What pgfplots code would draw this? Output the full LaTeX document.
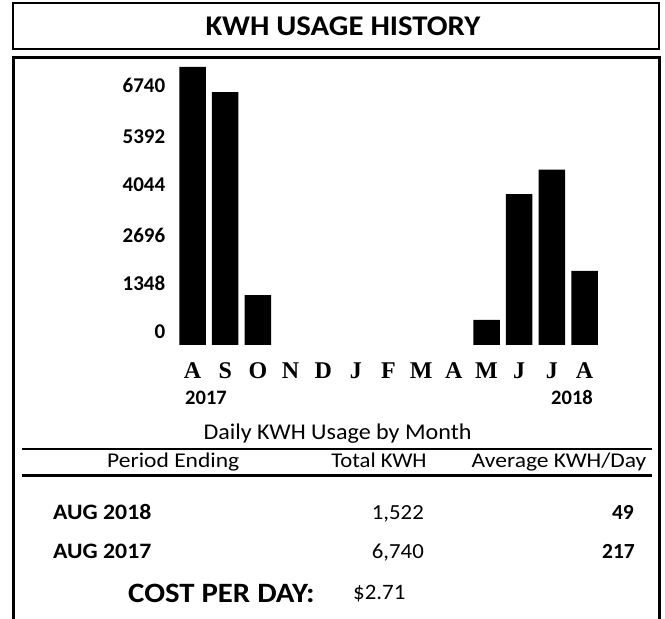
\documentclass[border=0pt]{standalone}
\usepackage{pgfplots}
\pgfplotsset{compat=1.18}
\usepackage{fontspec}
\setmainfont{Carlito}
\newfontfamily\serifb{Liberation Serif}
\newcommand\fs[1]{\fontsize{#1}{#1}\selectfont}
\newcommand\ml[1]{\textnormal{\serifb\bfseries\fs{24}#1}}
\newcommand\yl[1]{\textnormal{\bfseries\fs{21}#1}}
\newcommand\sx[2]{\scalebox{#1}[1]{#2}}

\begin{document}
\begin{tikzpicture}[x=1pt,y=1pt]
\path[fill=white,use as bounding box] (0,0) rectangle (665,619);
% title box
\draw[line width=2.5pt] (13,570) rectangle (659,616);
\node[anchor=base, inner sep=0pt] at (343,583) {\bfseries\fs{28.5}\sx{1.08}{KWH USAGE HISTORY}};
% main box (open at the bottom)
\draw[line width=3pt] (13,0) -- (13,561) -- (659,561) -- (659,0);

\begin{axis}[
  scale only axis, width=444.3pt, height=278pt,
  at={(166.4pt,274pt)}, anchor=south west,
  xmin=-0.8, xmax=12.8, ymin=0, ymax=6740,
  enlargelimits=false,
  ybar, bar width=26.5pt,
  axis line style={draw=none}, tick style={draw=none},
  xtick={0,1,2,3,4,5,6,7,8,9,10,11,12},
  xticklabels={\ml{A},\ml{S},\ml{O},\ml{N},\ml{D},\ml{J},\ml{F},\ml{M},\ml{A},\ml{M},\ml{J},\ml{J},\ml{A}},
  xticklabel style={anchor=base, inner sep=0pt, yshift=-29pt},
  ytick={315,1503,2667,3879,5043,6304},
  yticklabels={\yl{0},\yl{1348},\yl{2696},\yl{4044},\yl{5392},\yl{6740}},
  yticklabel style={anchor=east, inner sep=0pt, xshift=-1pt},
  clip=false,
]
% months Nov--Apr have no bar (zero usage)
\addplot[fill=black, draw=none] coordinates {
  (0,6740) (1,6130) (2,1210)
  (9,610) (10,3660) (11,4250) (12,1800)
};
\end{axis}

% years
\node[anchor=base, inner sep=0pt] at (206,214) {\bfseries\fs{20.5}2017};
\node[anchor=base, inner sep=0pt] at (572,214) {\bfseries\fs{20.5}2018};

% table
\node[anchor=base, inner sep=0pt] at (337.5,179) {\fs{22.5}\sx{1.07}{Daily KWH Usage by Month}};
\draw[line width=1.5pt] (22,170) -- (652,170);
\node[anchor=base west, inner sep=0pt] at (107,151) {\fs{21}\sx{1.12}{Period Ending}};
\node[anchor=base, inner sep=0pt] at (379,151) {\fs{21}\sx{1.08}{Total KWH}};
\node[anchor=base, inner sep=0pt] at (559,151) {\fs{21}\sx{1.12}{Average KWH/Day}};
\draw[line width=3pt] (22,143) -- (652,143);

\node[anchor=base west, inner sep=0pt] at (53,99) {\bfseries\fs{22}\sx{1.08}{AUG 2018}};
\node[anchor=base west, inner sep=0pt] at (53,60) {\bfseries\fs{22}\sx{1.08}{AUG 2017}};
\node[anchor=base east, inner sep=0pt] at (424,99) {\fs{21.5}\sx{1.06}{1,522}};
\node[anchor=base east, inner sep=0pt] at (424,60) {\fs{21.5}\sx{1.06}{6,740}};
\node[anchor=base east, inner sep=0pt] at (634,99) {\bfseries\fs{21.5}49};
\node[anchor=base east, inner sep=0pt] at (635,60) {\bfseries\fs{21.5}217};

\node[anchor=base west, inner sep=0pt] at (128,16) {\bfseries\fs{28}\sx{1.1}{COST PER DAY:}};
\node[anchor=base west, inner sep=0pt] at (353,19) {\fs{22}\sx{1.04}{\$2.71}};
\end{tikzpicture}
\end{document}
